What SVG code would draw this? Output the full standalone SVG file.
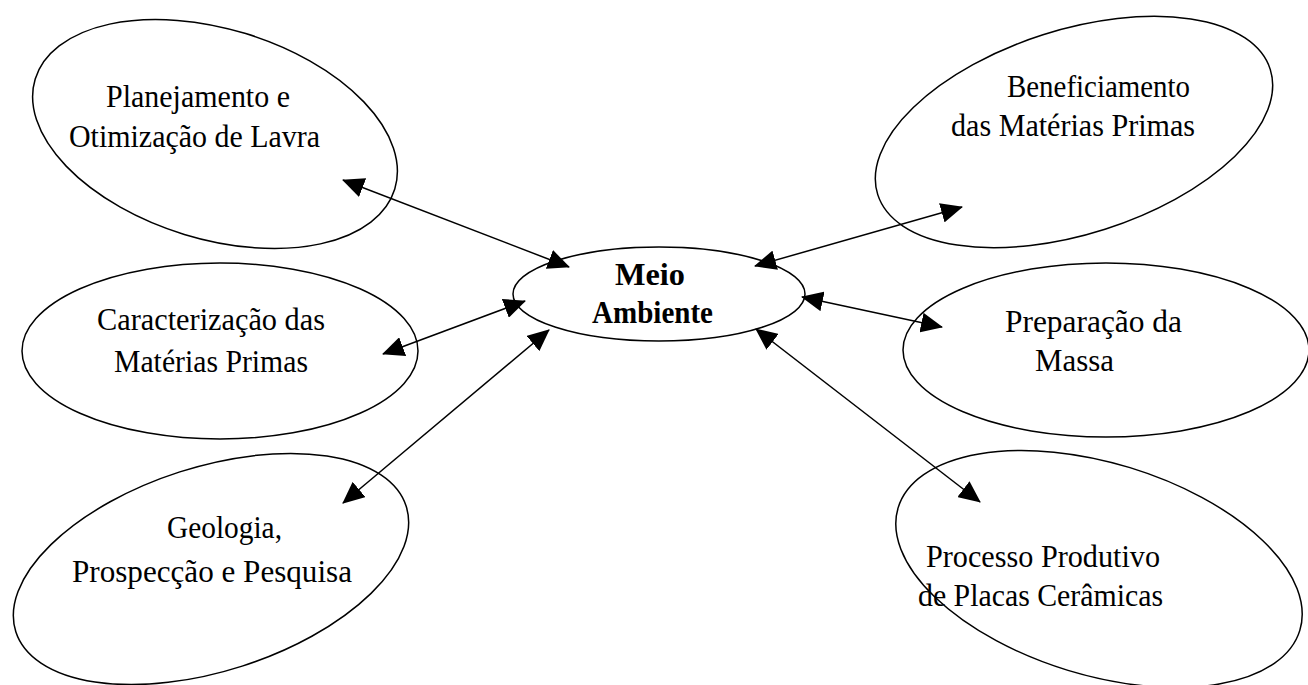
<svg xmlns="http://www.w3.org/2000/svg" width="1308" height="685" viewBox="0 0 1308 685">
<style>
.node ellipse{fill:none;stroke:#000;stroke-width:1.5}
.lbl{font-family:"Liberation Serif","Times New Roman",serif;font-size:32px;fill:#000}
.bold{font-weight:bold}
.conn line{stroke:#000;stroke-width:1.5;marker-start:url(#ah);marker-end:url(#ah)}
</style>
<defs>
<marker id="ah" markerUnits="userSpaceOnUse" viewBox="0 0 22 20" refX="21" refY="10" markerWidth="22" markerHeight="20" orient="auto-start-reverse">
<path d="M0,0 L22,10 L0,20 z" fill="#000"/>
</marker>
</defs>
<rect width="1308" height="685" fill="#fff"/>
<g id="meio" class="node">
<ellipse cx="659" cy="294" rx="146" ry="47"/>
<text class="lbl bold" x="615" y="285" textLength="70" lengthAdjust="spacingAndGlyphs">Meio</text>
<text class="lbl bold" x="592" y="323" textLength="121" lengthAdjust="spacingAndGlyphs">Ambiente</text>
</g>
<g id="planejamento" class="node">
<ellipse cx="215" cy="134" rx="188" ry="105" transform="rotate(17 215 134)"/>
<text class="lbl" x="106" y="107" textLength="184" lengthAdjust="spacingAndGlyphs">Planejamento e</text>
<text class="lbl" x="69" y="147" textLength="251" lengthAdjust="spacingAndGlyphs">Otimização de Lavra</text>
</g>
<g id="beneficiamento" class="node">
<ellipse cx="1074" cy="132" rx="206" ry="102" transform="rotate(-17.7 1074 132)"/>
<text class="lbl" x="1007" y="97" textLength="183" lengthAdjust="spacingAndGlyphs">Beneficiamento</text>
<text class="lbl" x="951" y="136" textLength="244" lengthAdjust="spacingAndGlyphs">das Matérias Primas</text>
</g>
<g id="caracterizacao" class="node">
<ellipse cx="220" cy="351" rx="198" ry="88"/>
<text class="lbl" x="97" y="330" textLength="228" lengthAdjust="spacingAndGlyphs">Caracterização das</text>
<text class="lbl" x="114" y="372" textLength="194" lengthAdjust="spacingAndGlyphs">Matérias Primas</text>
</g>
<g id="preparacao" class="node">
<ellipse cx="1106" cy="350" rx="203" ry="87"/>
<text class="lbl" x="1005" y="332" textLength="177" lengthAdjust="spacingAndGlyphs">Preparação da</text>
<text class="lbl" x="1035" y="371" textLength="79" lengthAdjust="spacingAndGlyphs">Massa</text>
</g>
<g id="geologia" class="node">
<ellipse cx="211" cy="569" rx="205" ry="102" transform="rotate(-17.8 211 569)"/>
<text class="lbl" x="167" y="538" textLength="115" lengthAdjust="spacingAndGlyphs">Geologia,</text>
<text class="lbl" x="72" y="582" textLength="280" lengthAdjust="spacingAndGlyphs">Prospecção e Pesquisa</text>
</g>
<g id="processo" class="node">
<ellipse cx="1099" cy="569" rx="210" ry="106" transform="rotate(17 1099 569)"/>
<text class="lbl" x="926" y="567" textLength="234" lengthAdjust="spacingAndGlyphs">Processo Produtivo</text>
<text class="lbl" x="918" y="606" textLength="245" lengthAdjust="spacingAndGlyphs">de Placas Cerâmicas</text>
</g>
<g id="connectors" class="conn">
<line x1="343" y1="180" x2="569" y2="267"/>
<line x1="962" y1="207" x2="755" y2="266"/>
<line x1="383" y1="354" x2="525" y2="301"/>
<line x1="343" y1="503" x2="549" y2="330"/>
<line x1="942" y1="327" x2="802" y2="297"/>
<line x1="980" y1="502" x2="756" y2="329"/>
</g>
</svg>
